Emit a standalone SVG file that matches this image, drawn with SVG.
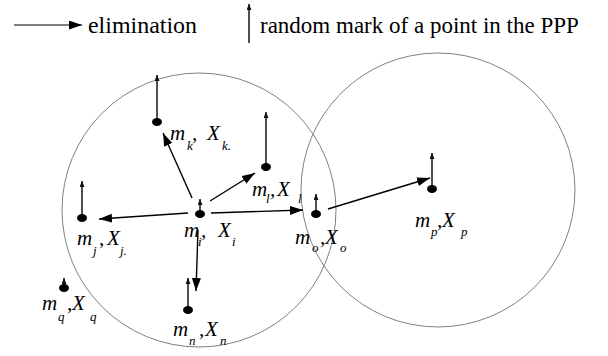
<svg xmlns="http://www.w3.org/2000/svg" width="608" height="356" viewBox="0 0 608 356">
<defs>
<marker id="elim" markerWidth="14" markerHeight="10" refX="13" refY="4.5" orient="auto" markerUnits="userSpaceOnUse"><path d="M0,0 L13,4.5 L0,9 Z" fill="#000"/></marker>
<marker id="mark" markerWidth="7" markerHeight="6" refX="6" refY="2.5" orient="auto" markerUnits="userSpaceOnUse"><path d="M0,0 L6,2.5 L0,5 Z" fill="#111"/></marker>
</defs>
<style>
.circ{fill:none;stroke:#808080;stroke-width:1}
.el{stroke:#000;stroke-width:1.4;fill:none;marker-end:url(#elim)}
.mk{stroke:#222;stroke-width:1.6;fill:none;marker-end:url(#mark)}
.dot{fill:#000}
.leg{font-family:'Liberation Serif','Times New Roman',serif;font-size:23px;fill:#000}
.lab{font-family:'Liberation Serif','Times New Roman',serif;font-style:italic;font-size:21px;fill:#000}
.sub{font-size:13px}
</style>
<g id="legend">
<line x1="14" y1="25" x2="82" y2="25" stroke="#000" stroke-width="1.2" marker-end="url(#elim)"/>
<text class="leg" x="88" y="33" textLength="109" lengthAdjust="spacingAndGlyphs">elimination</text>
<line class="mk" x1="249" y1="43" x2="249" y2="4"/>
<text class="leg" x="260" y="33">random mark of a point in the PPP</text>
</g>
<g id="circles">
<circle class="circ" cx="199" cy="210" r="137"/>
<circle class="circ" cx="438" cy="190" r="137"/>
</g>
<g id="connectors">
<line class="el" x1="192" y1="198" x2="163" y2="133"/>
<line class="el" x1="210" y1="201" x2="255" y2="173"/>
<line class="el" x1="211" y1="213" x2="303" y2="210"/>
<line class="el" x1="188" y1="213" x2="99" y2="219"/>
<line class="el" x1="198" y1="230" x2="196" y2="291"/>
<line class="el" x1="328" y1="209" x2="430" y2="178"/>
</g>
<g id="node-k">
<line class="mk" x1="157" y1="119" x2="157" y2="75"/>
<ellipse class="dot" cx="157" cy="122" rx="5" ry="4"/>
<text class="lab"><tspan x="170" y="140">m</tspan><tspan class="sub" x="187" y="150">k</tspan><tspan x="192" y="140">,</tspan><tspan x="207" y="140">X</tspan><tspan class="sub" x="222" y="150">k.</tspan></text>
</g>
<g id="node-l">
<line class="mk" x1="266" y1="164" x2="266" y2="112"/>
<ellipse class="dot" cx="266" cy="167" rx="5" ry="4"/>
<text class="lab"><tspan x="252" y="196">m</tspan><tspan class="sub" x="266" y="203">l</tspan><tspan x="270" y="196">,</tspan><tspan x="277" y="196">X</tspan><tspan class="sub" x="298" y="203">l</tspan></text>
</g>
<g id="node-j">
<line class="mk" x1="82" y1="215" x2="82" y2="181"/>
<ellipse class="dot" cx="82" cy="218" rx="5" ry="4"/>
<text class="lab"><tspan x="77" y="245">m</tspan><tspan class="sub" x="93" y="255">j</tspan><tspan x="99" y="245">,</tspan><tspan x="107" y="245">X</tspan><tspan class="sub" x="120" y="255">j.</tspan></text>
</g>
<g id="node-i">
<line class="mk" x1="200" y1="211" x2="200" y2="199"/>
<ellipse class="dot" cx="200" cy="214" rx="5" ry="4"/>
<text class="lab"><tspan x="184" y="237">m</tspan><tspan class="sub" x="198" y="246">i</tspan><tspan x="201" y="237">,</tspan><tspan x="218" y="237">X</tspan><tspan class="sub" x="232" y="246">i</tspan></text>
</g>
<g id="node-o">
<line class="mk" x1="316" y1="211" x2="316" y2="194"/>
<ellipse class="dot" cx="316" cy="214" rx="5" ry="4"/>
<text class="lab"><tspan x="295" y="244">m</tspan><tspan class="sub" x="312" y="252">o</tspan><tspan x="320" y="244">,</tspan><tspan x="325" y="244">X</tspan><tspan class="sub" x="340" y="252">o</tspan></text>
</g>
<g id="node-p">
<line class="mk" x1="432" y1="186" x2="432" y2="153"/>
<ellipse class="dot" cx="432" cy="189" rx="5" ry="4"/>
<text class="lab"><tspan x="415" y="227">m</tspan><tspan class="sub" x="431" y="236">p</tspan><tspan x="437" y="227">,</tspan><tspan x="442" y="227">X</tspan><tspan class="sub" x="461" y="236">p</tspan></text>
</g>
<g id="node-q">
<line class="mk" x1="64" y1="285" x2="64" y2="278"/>
<ellipse class="dot" cx="64" cy="288" rx="5" ry="4"/>
<text class="lab"><tspan x="42" y="310">m</tspan><tspan class="sub" x="58" y="321">q</tspan><tspan x="67" y="310">,</tspan><tspan x="72" y="310">X</tspan><tspan class="sub" x="90" y="321">q</tspan></text>
</g>
<g id="node-n">
<line class="mk" x1="188" y1="307" x2="188" y2="278"/>
<ellipse class="dot" cx="188" cy="310" rx="5" ry="4"/>
<text class="lab"><tspan x="173" y="336">m</tspan><tspan class="sub" x="189" y="345">n</tspan><tspan x="199" y="336">,</tspan><tspan x="205" y="336">X</tspan><tspan class="sub" x="220" y="345">n</tspan></text>
</g>
</svg>
